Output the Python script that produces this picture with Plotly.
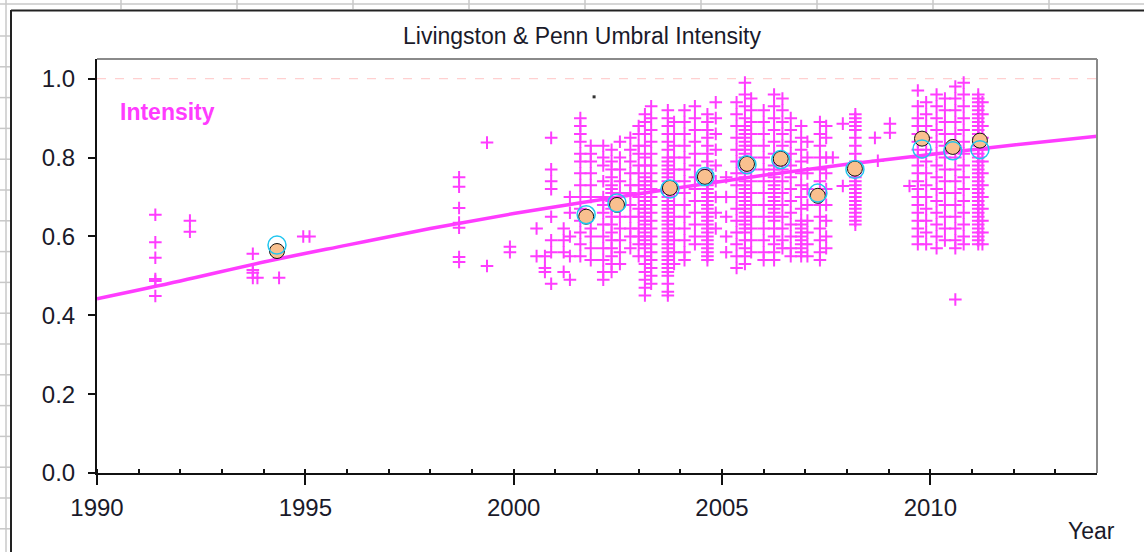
import plotly.graph_objects as go

# ---------------- data ----------------
# individual measurements (magenta crosses): column year -> values
col_years = [
    1991.4, 1992.23, 1993.74, 1993.85, 1994.37, 1994.95, 1995.1,
    1998.69, 1999.36, 1999.91,
    2000.55, 2000.75, 2000.9, 2001.2, 2001.35, 2001.6, 2001.85, 2002.15, 2002.35,
    2002.55, 2002.8, 2003.0, 2003.15, 2003.3, 2003.7, 2003.85, 2004.1, 2004.35,
    2004.65, 2004.85, 2005.1, 2005.35, 2005.55, 2005.7, 2006.0, 2006.25, 2006.45,
    2006.65, 2006.9, 2007.05, 2007.35, 2007.5,
    2007.66, 2007.9, 2008.2, 2008.67, 2008.74, 2009.03, 2009.5,
    2009.7, 2009.9, 2010.15, 2010.35, 2010.6, 2010.8, 2011.15, 2011.25,
]
col_values = [
    [0.655, 0.585, 0.546, 0.492, 0.487, 0.449],
    [0.64, 0.612],
    [0.556, 0.515, 0.508, 0.495],
    [0.495],
    [0.495],
    [0.60],
    [0.60],
    [0.75, 0.726, 0.672, 0.635, 0.622, 0.548, 0.535],
    [0.838, 0.525],
    [0.574, 0.56],
    [0.62, 0.55],
    [0.55, 0.51, 0.52],
    [0.85, 0.77, 0.74, 0.72, 0.65, 0.59, 0.56, 0.48],
    [0.62, 0.59, 0.56, 0.51],
    [0.70, 0.66, 0.60, 0.55, 0.49],
    [0.90, 0.88, 0.86, 0.84, 0.81, 0.79, 0.76, 0.73, 0.70, 0.67, 0.64, 0.61, 0.58, 0.55],
    [0.83, 0.81, 0.79, 0.76, 0.73, 0.70, 0.62, 0.60, 0.57, 0.54],
    [0.83, 0.80, 0.78, 0.74, 0.70, 0.68, 0.66, 0.63, 0.60, 0.57, 0.54, 0.51, 0.49],
    [0.82, 0.79, 0.77, 0.75, 0.73, 0.72, 0.71, 0.70, 0.69, 0.68, 0.67, 0.65, 0.63, 0.61, 0.59, 0.57, 0.55, 0.53, 0.51],
    [0.84, 0.80, 0.77, 0.74, 0.71, 0.68, 0.65, 0.62, 0.59, 0.56, 0.53],
    [0.85, 0.82, 0.79, 0.76, 0.73, 0.71, 0.68, 0.65, 0.62, 0.60, 0.57],
    [0.88, 0.86, 0.83, 0.81, 0.78, 0.76, 0.73, 0.70, 0.67, 0.65, 0.62, 0.60, 0.58, 0.55],
    [0.91, 0.89, 0.86, 0.83, 0.80, 0.78, 0.75, 0.74, 0.73, 0.72, 0.71, 0.70, 0.69, 0.68, 0.67, 0.66, 0.65, 0.64, 0.63, 0.62, 0.61, 0.60, 0.59, 0.58, 0.57, 0.55, 0.53, 0.51, 0.49, 0.47, 0.45],
    [0.93, 0.90, 0.87, 0.84, 0.81, 0.78, 0.76, 0.74, 0.72, 0.70, 0.68, 0.66, 0.64, 0.62, 0.60, 0.58, 0.56, 0.54, 0.52, 0.50, 0.48],
    [0.92, 0.90, 0.88, 0.86, 0.84, 0.82, 0.80, 0.79, 0.78, 0.77, 0.76, 0.75, 0.74, 0.73, 0.72, 0.71, 0.70, 0.69, 0.68, 0.67, 0.66, 0.65, 0.64, 0.63, 0.62, 0.61, 0.60, 0.59, 0.58, 0.57, 0.56, 0.55, 0.54, 0.53, 0.52, 0.51, 0.50, 0.48, 0.46, 0.45],
    [0.89, 0.86, 0.83, 0.80, 0.77, 0.74, 0.71, 0.68, 0.65, 0.62, 0.59, 0.56, 0.53],
    [0.92, 0.89, 0.86, 0.83, 0.80, 0.77, 0.74, 0.71, 0.68, 0.65, 0.62, 0.59, 0.56, 0.54],
    [0.93, 0.90, 0.87, 0.84, 0.81, 0.78, 0.75, 0.72, 0.69, 0.66, 0.63, 0.60, 0.58],
    [0.91, 0.89, 0.87, 0.85, 0.83, 0.81, 0.79, 0.77, 0.76, 0.75, 0.74, 0.73, 0.72, 0.71, 0.70, 0.69, 0.68, 0.67, 0.66, 0.65, 0.64, 0.63, 0.62, 0.61, 0.60, 0.59, 0.58, 0.57, 0.56, 0.55, 0.54],
    [0.94, 0.90, 0.86, 0.82, 0.78, 0.74, 0.70, 0.66, 0.62],
    [0.75, 0.70, 0.65, 0.60, 0.56],
    [0.94, 0.91, 0.88, 0.85, 0.82, 0.79, 0.76, 0.73, 0.70, 0.67, 0.64, 0.61, 0.58, 0.55, 0.52],
    [0.99, 0.96, 0.93, 0.90, 0.88, 0.87, 0.86, 0.85, 0.84, 0.83, 0.82, 0.81, 0.80, 0.79, 0.78, 0.77, 0.76, 0.75, 0.74, 0.73, 0.72, 0.71, 0.70, 0.69, 0.68, 0.67, 0.66, 0.65, 0.64, 0.63, 0.62, 0.61, 0.59, 0.57, 0.55, 0.53],
    [0.95, 0.92, 0.89, 0.86, 0.83, 0.80, 0.77, 0.74, 0.71, 0.68, 0.65, 0.62, 0.59, 0.56],
    [0.92, 0.89, 0.86, 0.83, 0.80, 0.77, 0.74, 0.71, 0.68, 0.65, 0.62, 0.59, 0.56, 0.54],
    [0.96, 0.93, 0.90, 0.87, 0.84, 0.81, 0.78, 0.77, 0.76, 0.75, 0.74, 0.73, 0.72, 0.71, 0.70, 0.69, 0.68, 0.67, 0.66, 0.65, 0.64, 0.62, 0.60, 0.58, 0.56, 0.54],
    [0.95, 0.92, 0.89, 0.86, 0.83, 0.80, 0.77, 0.74, 0.71, 0.68, 0.65, 0.62, 0.59, 0.57],
    [0.90, 0.87, 0.84, 0.81, 0.78, 0.75, 0.72, 0.69, 0.66, 0.63, 0.60, 0.57, 0.55],
    [0.88, 0.85, 0.82, 0.79, 0.76, 0.73, 0.70, 0.67, 0.64, 0.63, 0.62, 0.61, 0.60, 0.59, 0.58, 0.57, 0.56, 0.55],
    [0.84, 0.80, 0.76, 0.72, 0.68, 0.64, 0.61, 0.58, 0.55],
    [0.89, 0.86, 0.83, 0.80, 0.77, 0.74, 0.71, 0.68, 0.65, 0.62, 0.59, 0.56, 0.54],
    [0.88, 0.85, 0.80, 0.76, 0.72, 0.68, 0.64, 0.60, 0.57],
    [0.80],
    [0.886, 0.728],
    [0.91, 0.90, 0.89, 0.88, 0.87, 0.85, 0.83, 0.81, 0.79, 0.78, 0.77, 0.76, 0.75, 0.74, 0.73, 0.72, 0.71, 0.70, 0.69, 0.68, 0.67, 0.66, 0.65, 0.64, 0.63],
    [0.85],
    [0.792],
    [0.886, 0.863],
    [0.728],
    [0.97, 0.93, 0.90, 0.88, 0.86, 0.84, 0.82, 0.80, 0.78, 0.76, 0.74, 0.72, 0.70, 0.68, 0.66, 0.64, 0.62, 0.60, 0.58],
    [0.94, 0.91, 0.88, 0.85, 0.82, 0.79, 0.76, 0.73, 0.70, 0.67, 0.64, 0.61, 0.58],
    [0.96, 0.93, 0.90, 0.87, 0.84, 0.81, 0.78, 0.75, 0.72, 0.69, 0.66, 0.63, 0.60, 0.57],
    [0.95, 0.92, 0.89, 0.86, 0.83, 0.80, 0.77, 0.74, 0.71, 0.68, 0.65, 0.62, 0.59],
    [0.98, 0.95, 0.92, 0.89, 0.86, 0.83, 0.80, 0.77, 0.74, 0.71, 0.68, 0.65, 0.62, 0.59, 0.57, 0.44],
    [0.99, 0.96, 0.93, 0.90, 0.87, 0.84, 0.81, 0.78, 0.75, 0.72, 0.69, 0.66, 0.63, 0.60, 0.58],
    [0.96, 0.95, 0.94, 0.93, 0.92, 0.91, 0.90, 0.89, 0.88, 0.87, 0.86, 0.85, 0.84, 0.83, 0.82, 0.81, 0.80, 0.79, 0.78, 0.77, 0.76, 0.75, 0.74, 0.73, 0.72, 0.71, 0.70, 0.69, 0.68, 0.67, 0.66, 0.65, 0.64, 0.63, 0.62, 0.61, 0.60, 0.59, 0.58],
    [0.94, 0.91, 0.88, 0.85, 0.82, 0.79, 0.76, 0.73, 0.70, 0.67, 0.64, 0.61, 0.58],
]

# trend curve
trend_years = [1990, 1992, 1994, 1996, 1998, 2000, 2002, 2004, 2006, 2008, 2010, 2012, 2014]
trend_values = [0.442, 0.487, 0.535, 0.578, 0.620, 0.658, 0.692, 0.724, 0.755, 0.783, 0.808, 0.832, 0.854]

# yearly means (peach) and alternate means (cyan rings)
mean_years = [1994.32, 2001.74, 2002.48, 2003.75, 2004.59, 2005.6, 2006.41, 2007.30, 2008.19, 2009.8, 2010.54, 2011.19]
mean_values = [0.563, 0.650, 0.680, 0.723, 0.751, 0.784, 0.797, 0.703, 0.772, 0.848, 0.827, 0.843]
alt_values = [0.578, 0.655, 0.685, 0.720, 0.752, 0.782, 0.795, 0.710, 0.770, 0.822, 0.817, 0.820]

stray_year = [2001.93]
stray_value = [0.954]

x_ticks = [1990, 1995, 2000, 2005, 2010]
y_ticks = [0.0, 0.2, 0.4, 0.6, 0.8, 1.0]

# ---------------- figure ----------------
MAG = "#ff3cff"
FONT = "Arial, Liberation Sans, sans-serif"
TXT = "#1a1a2a"

xs, ys = [], []
for yr, vals in zip(col_years, col_values):
    for v in vals:
        xs.append(yr)
        ys.append(v)

fig = go.Figure()
fig.add_trace(go.Scatter(
    x=xs, y=ys, mode="markers",
    marker=dict(symbol="cross-thin", size=9, color=MAG, line=dict(color=MAG, width=2)),
    hoverinfo="skip", showlegend=False))
fig.add_trace(go.Scatter(
    x=trend_years, y=trend_values, mode="lines", line=dict(color=MAG, width=3.5, shape="spline"),
    showlegend=False))
fig.add_trace(go.Scatter(
    x=mean_years, y=mean_values, mode="markers",
    marker=dict(symbol="circle", size=15, color="#f9c08f", line=dict(color="#111", width=1)),
    showlegend=False))
fig.add_trace(go.Scatter(
    x=mean_years, y=alt_values, mode="markers",
    marker=dict(symbol="circle-open", size=18, color="#22c6ef", line=dict(color="#22c6ef", width=1.5)),
    showlegend=False))
fig.add_trace(go.Scatter(
    x=stray_year, y=stray_value, mode="markers",
    marker=dict(symbol="square", size=3, color="#333"), showlegend=False))

L, R, T, B = 97, 47, 59, 79
W, H = 1144, 552
PW, PH = W - L - R, H - T - B


def px(xp):
    return (xp - L) / PW


def py(yp):
    return (H - B - yp) / PH


shapes = []
# dashed reference at 1.0
shapes.append(dict(type="line", xref="paper", yref="y", x0=0, x1=1, y0=1.0, y1=1.0,
                   line=dict(color="#ffc4c4", width=1, dash="dash"), layer="below"))
# grey top / right border of plot
shapes.append(dict(type="line", xref="paper", yref="paper", x0=0, x1=1, y0=1, y1=1,
                   line=dict(color="#8a8a8a", width=2)))
shapes.append(dict(type="line", xref="paper", yref="paper", x0=1, x1=1, y0=0, y1=1,
                   line=dict(color="#8a8a8a", width=2)))
# outer dark frame (left and top)
shapes.append(dict(type="line", xref="paper", yref="paper", x0=px(11), x1=px(11), y0=py(10), y1=py(552),
                   line=dict(color="#222", width=2)))
shapes.append(dict(type="line", xref="paper", yref="paper", x0=px(11), x1=px(1144), y0=py(10.5), y1=py(10.5),
                   line=dict(color="#222", width=2)))
# spreadsheet-like grey grid at the page edges
shapes.append(dict(type="line", xref="paper", yref="paper", x0=px(0), x1=px(1144), y0=py(4), y1=py(4),
                   line=dict(color="#c8c8c8", width=1.5)))
shapes.append(dict(type="line", xref="paper", yref="paper", x0=px(6), x1=px(6), y0=py(0), y1=py(552),
                   line=dict(color="#c8c8c8", width=1.5)))
for k in range(10):
    xg = 121 + 116 * k
    if xg < W:
        shapes.append(dict(type="line", xref="paper", yref="paper", x0=px(xg), x1=px(xg), y0=py(0), y1=py(9),
                           line=dict(color="#c8c8c8", width=1.5)))
for k in range(18):
    yg = 36 + 30.8 * k
    if yg < H:
        shapes.append(dict(type="line", xref="paper", yref="paper", x0=px(0), x1=px(10), y0=py(yg), y1=py(yg),
                           line=dict(color="#c8c8c8", width=1.5)))

annotations = [
    dict(text="Livingston & Penn Umbral Intensity", xref="paper", yref="paper",
         x=px(582), y=py(36), xanchor="center", yanchor="middle", showarrow=False,
         font=dict(family=FONT, size=23, color=TXT)),
    dict(text="<b>Intensity</b>", xref="paper", yref="paper",
         x=px(118), y=py(112), xanchor="left", yanchor="middle", showarrow=False,
         font=dict(family=FONT, size=23, color=MAG)),
    dict(text="Year", xref="paper", yref="paper",
         x=px(1091), y=py(531), xanchor="center", yanchor="middle", showarrow=False,
         font=dict(family=FONT, size=23, color=TXT)),
]

fig.update_layout(
    width=W, height=H,
    margin=dict(l=L, r=R, t=T, b=B, pad=0),
    paper_bgcolor="white", plot_bgcolor="white",
    shapes=shapes, annotations=annotations,
    xaxis=dict(range=[1990, 2014], tickvals=x_ticks, ticks="outside", ticklen=10, tickwidth=2,
               tickcolor="#111", showline=True, linecolor="#111", linewidth=2,
               showgrid=False, zeroline=False,
               minor=dict(dtick=1, tick0=1990, ticks="inside", ticklen=4, tickwidth=2, tickcolor="#111",
                          showgrid=False),
               tickfont=dict(family=FONT, size=24, color=TXT), ticklabelstandoff=2),
    yaxis=dict(range=[0, 1.05], tickvals=y_ticks, tickformat=".1f", ticks="outside", ticklen=7,
               tickwidth=2, tickcolor="#111", showline=True, linecolor="#111", linewidth=2,
               showgrid=False, zeroline=False,
               tickfont=dict(family=FONT, size=24, color=TXT), ticklabelstandoff=8),
)

fig.write_html("out.html")
